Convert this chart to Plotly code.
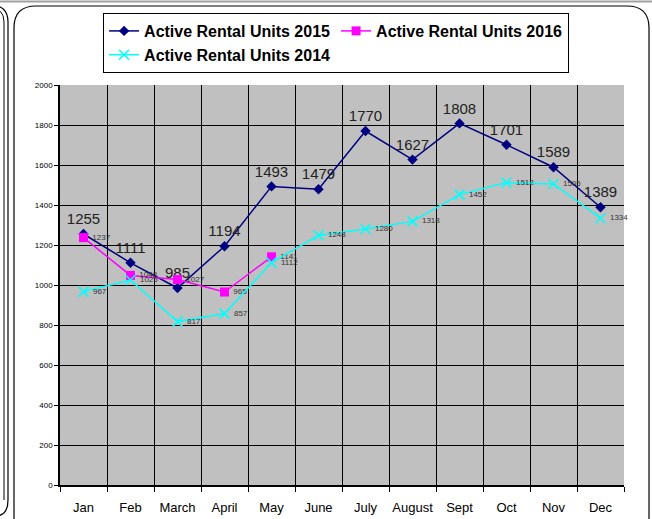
import plotly.graph_objects as go

months = ["Jan", "Feb", "March", "April", "May", "June", "July", "August", "Sept", "Oct", "Nov", "Dec"]
units_2015 = [1255, 1111, 985, 1194, 1493, 1479, 1770, 1627, 1808, 1701, 1589, 1389]
units_2016 = [1237, 1048, 1027, 965, 1141]
units_2014 = [967, 1025, 817, 857, 1112, 1248, 1280, 1318, 1452, 1512, 1505, 1334]
y_ticks = list(range(0, 2001, 200))

xi = list(range(len(months)))

fig = go.Figure()
fig.add_trace(go.Scatter(
    x=xi, y=units_2015, name="Active Rental Units 2015",
    mode="lines+markers+text", text=[str(v) for v in units_2015],
    textposition="top center", textfont=dict(family="Arial", size=15, color="#222"),
    line=dict(color="#000080", width=1.5),
    marker=dict(symbol="diamond", size=8, color="#000080"),
    cliponaxis=False,
))
fig.add_trace(go.Scatter(
    x=xi[:len(units_2016)], y=units_2016, name="Active Rental Units 2016",
    mode="lines+markers+text", text=[" " + str(v) for v in units_2016],
    textposition="middle right", textfont=dict(family="Arial", size=8, color="#333"),
    line=dict(color="#FF00FF", width=1.5),
    marker=dict(symbol="square", size=9, color="#FF00FF"),
    cliponaxis=False,
))
fig.add_trace(go.Scatter(
    x=xi, y=units_2014, name="Active Rental Units 2014",
    mode="lines+markers+text", text=[" " + str(v) for v in units_2014],
    textposition="middle right", textfont=dict(family="Arial", size=8, color="#333"),
    line=dict(color="#00FFFF", width=1.5),
    marker=dict(symbol="x-thin", size=10, color="#00FFFF", line=dict(color="#00FFFF", width=1.5)),
    cliponaxis=False,
))

def px2x(p):
    return (p - 60) / 564.0

def py2y(p):
    return (485 - p) / 400.0

# main rounded frame
L, R, T, B, r = 14, 649, 6, 540, 22
path = (f"M {px2x(L+r)},{py2y(T)} L {px2x(R-r)},{py2y(T)} Q {px2x(R)},{py2y(T)} {px2x(R)},{py2y(T+r)} "
        f"L {px2x(R)},{py2y(B-r)} Q {px2x(R)},{py2y(B)} {px2x(R-r)},{py2y(B)} "
        f"L {px2x(L+r)},{py2y(B)} Q {px2x(L)},{py2y(B)} {px2x(L)},{py2y(B-r)} "
        f"L {px2x(L)},{py2y(T+r)} Q {px2x(L)},{py2y(T)} {px2x(L+r)},{py2y(T)} Z")
# left partial frame
path2 = (f"M {px2x(-20)},{py2y(5)} L {px2x(-10)},{py2y(5)} Q {px2x(8)},{py2y(5)} {px2x(8)},{py2y(22)} "
         f"L {px2x(8)},{py2y(500)} Q {px2x(8)},{py2y(516)} {px2x(-5)},{py2y(516)}")
path3 = (f"M {px2x(-20)},{py2y(8)} L {px2x(-10)},{py2y(8)} Q {px2x(4)},{py2y(8)} {px2x(4)},{py2y(22)} "
         f"L {px2x(4)},{py2y(500)}")

fig.update_layout(
    width=652, height=519,
    margin=dict(l=60, r=28, t=85, b=34, autoexpand=False),
    paper_bgcolor="white", plot_bgcolor="#C0C0C0",
    font=dict(family="Arial", color="black"),
    showlegend=True,
    legend=dict(
        orientation="h", x=0.4895, xanchor="center", y=py2y(13), yanchor="top",
        bordercolor="black", borderwidth=1, bgcolor="white",
        font=dict(family="Arial", size=16, color="black", weight="bold"),
        entrywidth=187, itemwidth=30, tracegroupgap=0,
    ),
    shapes=[
        dict(type="path", path=path, xref="paper", yref="paper", line=dict(color="black", width=1.2), layer="below"),
        dict(type="path", path=path2, xref="paper", yref="paper", line=dict(color="black", width=1.2), layer="below"),
        dict(type="path", path=path3, xref="paper", yref="paper", line=dict(color="black", width=1.0), layer="below"),
        dict(type="line", xref="paper", yref="paper", x0=px2x(0), x1=px2x(652), y0=py2y(1.5), y1=py2y(1.5),
             line=dict(color="#A0A0A0", width=2), layer="below"),
    ],
)

fig.update_xaxes(
    range=[-0.5, len(months) - 0.5],
    tickvals=xi, ticktext=months, ticks="", showgrid=False,
    tickfont=dict(family="Arial", size=13, color="black"),
    ticklabelstandoff=10, automargin=False,
    showline=True, linecolor="black", linewidth=1.5,
    zeroline=False,
    minor=dict(tickvals=[i - 0.5 for i in range(len(months) + 1)], showgrid=True,
               gridcolor="black", gridwidth=1, ticks="outside", ticklen=5, tickcolor="black"),
)
fig.update_yaxes(
    range=[0, 2000], tickvals=y_ticks, automargin=False,
    tickfont=dict(family="Arial", size=8, color="black"),
    ticks="outside", ticklen=4, tickcolor="black",
    showgrid=True, gridcolor="black", gridwidth=1,
    showline=True, linecolor="black", linewidth=1.5, zeroline=False,
)

fig.write_html("out.html", config={"displayModeBar": False},
               post_script="document.body.style.margin='0';document.body.style.overflow='hidden';")
